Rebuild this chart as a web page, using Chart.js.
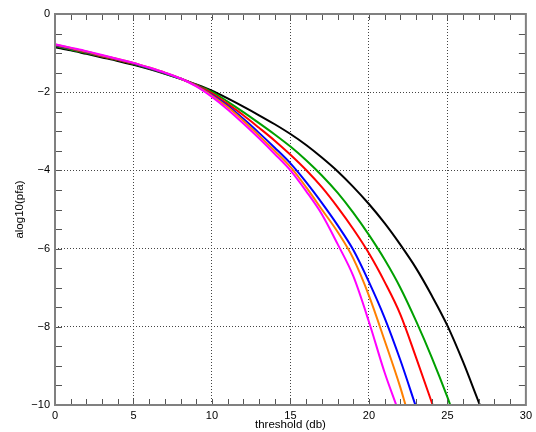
<!DOCTYPE html>
<html>
<head>
<meta charset="utf-8">
<script src="https://cdn.jsdelivr.net/npm/chart.js@4/dist/chart.umd.min.js"></script>
<style>
  html, body { margin: 0; padding: 0; background: #fff; }
</style>
</head>
<body>
<canvas id="pfaChart" width="536" height="432"></canvas>
<script>
// threshold values (db) where each curve was read
var thresholdDb = [0,1,2,3,4,5,6,7,8,9,10,11,12,13,14,15,16,17,18,19,20,21,22,23,24,25,26,27];

// alog10(pfa)
var pfaBlack   = [-0.85,-0.93,-1.02,-1.11,-1.20,-1.30,-1.41,-1.53,-1.66,-1.80,-1.96,-2.16,-2.37,-2.59,-2.82,-3.07,-3.35,-3.67,-4.02,-4.42,-4.86,-5.35,-5.90,-6.50,-7.20,-7.97,-8.90,-9.93];
var pfaGreen   = [-0.82,-0.91,-1.00,-1.09,-1.18,-1.28,-1.39,-1.52,-1.66,-1.81,-1.99,-2.24,-2.51,-2.79,-3.08,-3.39,-3.74,-4.13,-4.57,-5.08,-5.65,-6.28,-7.00,-7.85,-8.78,-9.80];
var pfaRed     = [-0.80,-0.89,-0.98,-1.08,-1.17,-1.27,-1.38,-1.51,-1.65,-1.82,-2.03,-2.30,-2.59,-2.91,-3.24,-3.60,-3.99,-4.43,-4.94,-5.50,-6.12,-6.85,-7.68,-8.78,-9.93];
var pfaBlue    = [-0.79,-0.88,-0.97,-1.07,-1.16,-1.26,-1.38,-1.51,-1.65,-1.83,-2.07,-2.35,-2.68,-3.04,-3.42,-3.82,-4.30,-4.83,-5.40,-6.03,-6.85,-7.77,-8.85];
var pfaOrange  = [-0.78,-0.87,-0.96,-1.06,-1.15,-1.25,-1.37,-1.50,-1.65,-1.84,-2.09,-2.38,-2.73,-3.11,-3.50,-3.91,-4.43,-5.00,-5.57,-6.25,-7.20,-8.35,-9.55];
var pfaMagenta = [-0.77,-0.86,-0.95,-1.05,-1.15,-1.25,-1.37,-1.50,-1.65,-1.85,-2.12,-2.44,-2.80,-3.18,-3.58,-4.00,-4.53,-5.12,-5.88,-6.70,-7.87,-9.17];

// threshold where each curve leaves the plot at -10
var crossDb = { black: 27.07, green: 25.18, red: 24.06, blue: 22.96, orange: 22.33, magenta: 21.74 };

var xTicks = [0, 5, 10, 15, 20, 25, 30];
var yTicks = [-10, -8, -6, -4, -2, 0];

function toPoints(ys, endX) {
  var pts = ys.map(function (v, i) { return { x: thresholdDb[i], y: v }; });
  pts.push({ x: endX, y: -10 });
  return pts;
}

var font = { family: "'Liberation Sans', Arial, sans-serif", size: 11 };
var titleFont = { family: "'Liberation Sans', Arial, sans-serif", size: 11.5 };

// inward ticks on all four sides plus the grey frame
var frameTicks = {
  id: 'frameTicks',
  afterDatasetsDraw: function (chart) {
    var ctx = chart.ctx, a = chart.chartArea, x = chart.scales.x, y = chart.scales.y;
    ctx.save();
    ctx.strokeStyle = '#555';
    ctx.lineWidth = 1;
    ctx.beginPath();
    for (var v = 1; v < 30; v++) {
      var px = Math.round(x.getPixelForValue(v)) + 0.5;
      ctx.moveTo(px, a.bottom); ctx.lineTo(px, a.bottom - 6);
      ctx.moveTo(px, a.top); ctx.lineTo(px, a.top + 6);
    }
    for (var w = -9.5; w < 0; w += 0.5) {
      var py = Math.round(y.getPixelForValue(w)) + 0.5;
      ctx.moveTo(a.left, py); ctx.lineTo(a.left + 7, py);
      ctx.moveTo(a.right, py); ctx.lineTo(a.right - 7, py);
    }
    ctx.stroke();
    ctx.strokeStyle = '#808080';
    ctx.lineWidth = 2;
    ctx.strokeRect(a.left, a.top, a.right - a.left, a.bottom - a.top);
    ctx.restore();
  }
};

new Chart(document.getElementById('pfaChart'), {
  type: 'line',
  data: {
    // first dataset is painted on top
    datasets: [
      { data: toPoints(pfaMagenta, crossDb.magenta), borderColor: '#ff00ff' },
      { data: toPoints(pfaOrange, crossDb.orange), borderColor: '#ff8000' },
      { data: toPoints(pfaBlue, crossDb.blue), borderColor: '#0000ff' },
      { data: toPoints(pfaRed, crossDb.red), borderColor: '#ff0000' },
      { data: toPoints(pfaGreen, crossDb.green), borderColor: '#00a000' },
      { data: toPoints(pfaBlack, crossDb.black), borderColor: '#000000' }
    ]
  },
  options: {
    responsive: false,
    animation: false,
    layout: { padding: { top: 14, right: 8, left: 0, bottom: 0 } },
    elements: {
      point: { radius: 0 },
      line: { borderWidth: 2, cubicInterpolationMode: 'monotone', fill: false }
    },
    plugins: { legend: { display: false }, tooltip: { enabled: false } },
    scales: {
      x: {
        type: 'linear', min: 0, max: 30,
        afterBuildTicks: function (s) { s.ticks = xTicks.map(function (v) { return { value: v }; }); },
        ticks: { color: '#000', font: font, padding: 4, maxRotation: 0 },
        grid: { color: '#444', lineWidth: 1, drawTicks: false },
        border: { display: false, dash: [1, 2] },
        title: { display: true, text: 'threshold (db)', color: '#000', font: titleFont, padding: { top: 1, bottom: 0 } },
        afterFit: function (s) { s.height = 27; }
      },
      y: {
        type: 'linear', min: -10, max: 0,
        afterBuildTicks: function (s) { s.ticks = yTicks.map(function (v) { return { value: v }; }); },
        ticks: {
          color: '#000', font: font, padding: 5,
          callback: function (v) { return v < 0 ? '\u2212' + (-v) : String(v); }
        },
        grid: { color: '#444', lineWidth: 1, drawTicks: false },
        border: { display: false, dash: [1, 2] },
        title: { display: true, text: 'alog10(pfa)', color: '#000', font: titleFont, padding: { top: 13, bottom: 0 } },
        afterFit: function (s) { s.width = 55; }
      }
    }
  },
  plugins: [frameTicks]
});
</script>
</body>
</html>
